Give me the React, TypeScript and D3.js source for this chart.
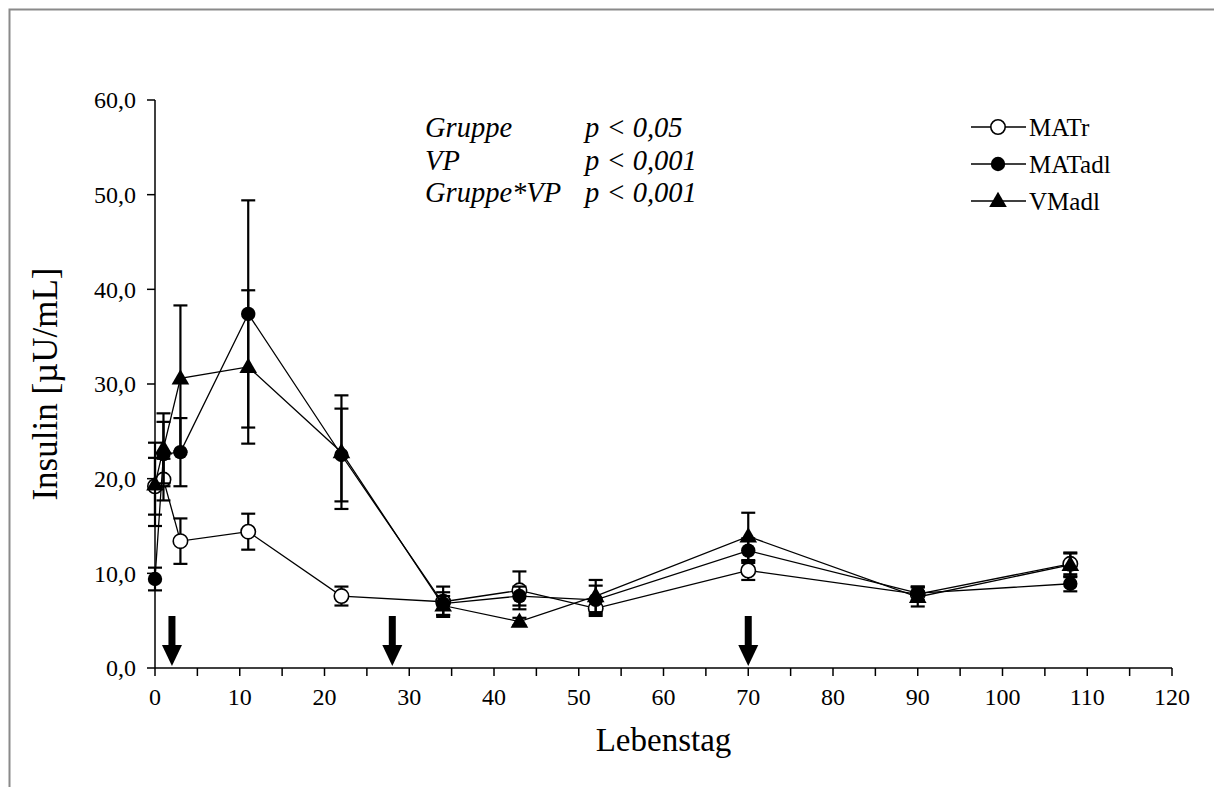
import React from 'react';
import * as d3 from 'd3';

const days = [0, 1, 3, 11, 22, 34, 43, 52, 70, 90, 108];

const matrMean = [19.2, 19.9, 13.4, 14.4, 7.6, 7.0, 8.2, 6.3, 10.3, 7.8, 11.0];
const matrSd = [3.0, 2.2, 2.4, 1.9, 1.0, 1.6, 2.0, 0.8, 1.0, 0.8, 1.1];

const matadlMean = [9.4, 22.6, 22.8, 37.4, 22.5, 6.8, 7.6, 7.2, 12.4, 7.9, 8.9];
const matadlSd = [1.2, 3.4, 3.6, 12.0, 4.9, 1.2, 1.0, 1.5, 1.3, 0.7, 0.8];

const vmadlMean = [19.4, 23.2, 30.6, 31.8, 22.8, 6.6, 4.9, 7.6, 13.9, 7.5, 10.9];
const vmadlSd = [4.4, 3.7, 7.7, 8.1, 6.0, 1.0, 0.4, 1.7, 2.5, 1.0, 1.3];

const arrowDays = [2, 28, 70];

const yTicks = [0, 10, 20, 30, 40, 50, 60];
const xTicks = [0, 10, 20, 30, 40, 50, 60, 70, 80, 90, 100, 110, 120];
const xMinorTicks = d3.range(0, 121, 5);

const statsLabels = ['Gruppe', 'VP', 'Gruppe*VP'];
const statsValues = ['p < 0,05', 'p < 0,001', 'p < 0,001'];

const seriesNames = ['MATr', 'MATadl', 'VMadl'];

const W = 1214;
const H = 787;
const FONT = '"Liberation Serif", "Times New Roman", Times, serif';

const x = d3.scaleLinear().domain([0, 120]).range([155, 1172]);
const y = d3.scaleLinear().domain([0, 60]).range([668, 100]);

const fmt = (v: number) => v.toFixed(1).replace('.', ',');

const triPath = d3.symbol(d3.symbolTriangle, 135)() as string;

const Marker = ({ kind, cx, cy }: { kind: string; cx: number; cy: number }) => {
  if (kind === 'open') return <circle cx={cx} cy={cy} r={7.2} fill="#fff" stroke="#000" strokeWidth={1.6} />;
  if (kind === 'filled') return <circle cx={cx} cy={cy} r={7.2} fill="#000" />;
  return <path d={triPath} transform={`translate(${cx},${cy + 1})`} fill="#000" />;
};

const series = [
  { name: seriesNames[0], mean: matrMean, sd: matrSd, kind: 'open' },
  { name: seriesNames[1], mean: matadlMean, sd: matadlSd, kind: 'filled' },
  { name: seriesNames[2], mean: vmadlMean, sd: vmadlSd, kind: 'tri' },
];

export default function App() {
  const line = d3.line<number>().x((_, i) => x(days[i])).y((d) => y(d));
  const cap = 7;

  return (
    <svg width={W} height={H} style={{ position: 'absolute', left: 0, top: 0, background: '#fff', fontFamily: FONT }}>
      <rect x={0} y={0} width={W} height={H} fill="#fff" />
      {/* outer frame */}
      <rect x={9.5} y={9.5} width={W + 20} height={H + 20} fill="none" stroke="#8a8a8a" strokeWidth={2} />

      {/* y axis */}
      <line x1={x(0)} x2={x(0)} y1={y(60)} y2={y(0)} stroke="#000" strokeWidth={1.5} />
      {yTicks.map((t) => (
        <g key={'yt' + t}>
          <line x1={x(0) - 8} x2={x(0)} y1={y(t)} y2={y(t)} stroke="#000" strokeWidth={1.5} />
          <text x={x(0) - 19} y={y(t)} dy="0.35em" textAnchor="end" fontSize={24}>{fmt(t)}</text>
        </g>
      ))}

      {/* x axis */}
      <line x1={x(0)} x2={x(120)} y1={y(0)} y2={y(0)} stroke="#000" strokeWidth={1.5} />
      {xMinorTicks.map((t) => (
        <line key={'xm' + t} x1={x(t)} x2={x(t)} y1={y(0)} y2={y(0) + 8} stroke="#000" strokeWidth={1.5} />
      ))}
      {xTicks.map((t) => (
        <text key={'xt' + t} x={x(t)} y={y(0) + 37} textAnchor="middle" fontSize={24}>{t}</text>
      ))}

      <text x={(x(0) + x(120)) / 2} y={y(0) + 83} textAnchor="middle" fontSize={33}>Lebenstag</text>
      <text transform={`translate(57,${(y(0) + y(60)) / 2}) rotate(-90)`} textAnchor="middle" fontSize={35}>Insulin [µU/mL]</text>

      {/* arrows */}
      {arrowDays.map((d) => {
        const cx = x(d);
        const tip = y(0) - 2;
        return (
          <g key={'ar' + d}>
            <rect x={cx - 3.5} y={tip - 50} width={7} height={30} fill="#000" />
            <path d={`M${cx - 10},${tip - 21} L${cx + 10},${tip - 21} L${cx},${tip} Z`} fill="#000" />
          </g>
        );
      })}

      {/* series */}
      {series.map((s) => (
        <g key={s.name}>
          <path d={line(s.mean) as string} fill="none" stroke="#000" strokeWidth={1.3} />
          {s.mean.map((m, i) => {
            const cx = x(days[i]);
            const top = y(m + s.sd[i]);
            const bot = y(m - s.sd[i]);
            return (
              <g key={i} stroke="#000" strokeWidth={2.2}>
                <line x1={cx} x2={cx} y1={top} y2={bot} />
                <line x1={cx - cap} x2={cx + cap} y1={top} y2={top} />
                <line x1={cx - cap} x2={cx + cap} y1={bot} y2={bot} />
              </g>
            );
          })}
          {s.mean.map((m, i) => (
            <Marker key={'m' + i} kind={s.kind} cx={x(days[i])} cy={y(m)} />
          ))}
        </g>
      ))}

      {/* stats annotation */}
      {statsLabels.map((l, i) => (
        <g key={'st' + i} fontStyle="italic" fontSize={28.5}>
          <text x={425} y={137 + i * 32.5}>{l}</text>
          <text x={585} y={137 + i * 32.5}>{statsValues[i]}</text>
        </g>
      ))}

      {/* legend */}
      {series.map((s, i) => {
        const ly = 127 + i * 37;
        return (
          <g key={'lg' + s.name}>
            <line x1={971} x2={1026} y1={ly} y2={ly} stroke="#000" strokeWidth={1.3} />
            <Marker kind={s.kind} cx={998} cy={ly} />
            <text x={1029} y={ly} dy="0.35em" fontSize={25}>{s.name}</text>
          </g>
        );
      })}
    </svg>
  );
}
